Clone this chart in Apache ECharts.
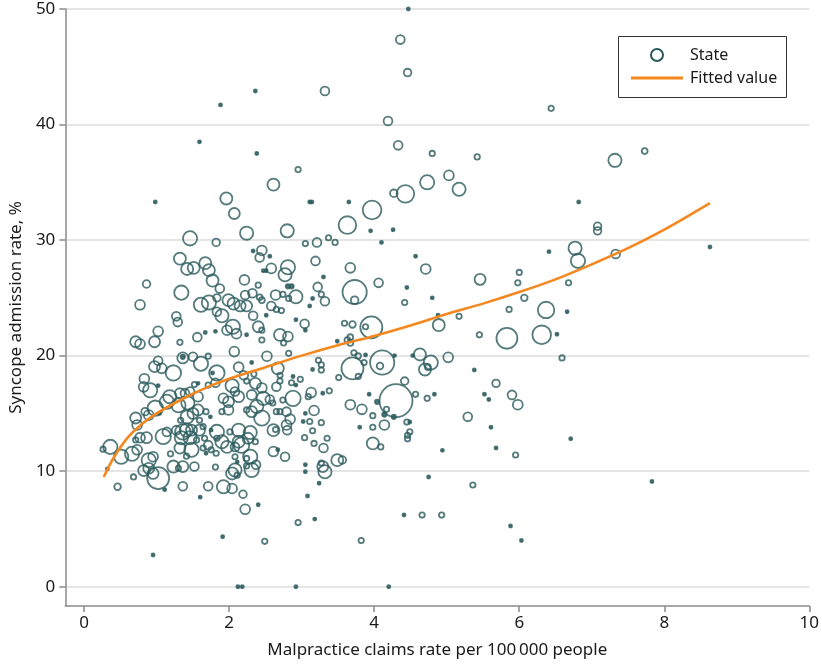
<!DOCTYPE html>
<html><head><meta charset="utf-8">
<script src="https://cdn.jsdelivr.net/npm/echarts@6/dist/echarts.min.js"></script>
<style>html,body{margin:0;padding:0;background:#fff}#c{width:822px;height:664px}</style>
</head><body><div id="c"></div>
<script>
// Tick labels
const xTicks = [0, 2, 4, 6, 8, 10];
const yTicks = [0, 10, 20, 30, 40, 50];
const xTitle = 'Malpractice claims rate per 100\u2009000 people';
const yTitle = 'Syncope admission rate, %';
const seriesNames = ['State', 'Fitted value'];

// States: [malpractice claims rate, syncope admission rate, relative weight]
const states = [
[4.47,50.0,2],[4.36,47.35,16],[4.46,44.5,12],[3.32,42.9,16],[2.36,42.9,2],[1.88,41.7,2],[1.59,38.5,2],
[4.19,40.3,16],[4.33,38.2,16],[4.80,37.5,6],[5.42,37.2,6],[2.38,37.5,2],[2.95,36.1,6],[2.61,34.8,30],
[4.73,35.0,42],[5.17,34.4,36],[4.43,34.0,64],[4.27,34.05,12],[5.03,35.6,20],[6.44,41.4,6],[7.32,36.9,36],
[7.73,37.7,7],[8.63,29.4,2],[7.08,31.2,12],[7.08,30.8,12],[6.82,33.3,2],[7.33,28.8,16],[6.81,28.2,42],
[6.77,29.3,36],[7.83,9.1,2],
[3.65,33.3,2],[3.97,32.6,72],[3.63,31.3,64],[3.95,30.8,2],[4.26,30.9,2],[4.10,29.8,2],[6.41,29.0,2],
[4.57,28.6,2],[3.67,27.6,20],[4.71,27.5,20],[5.46,26.6,25],[6.0,27.2,6],[5.98,26.3,6],[6.68,26.3,6],
[4.06,26.3,16],[3.73,25.5,121],[3.73,24.8,12],[4.45,25.9,2],[4.80,25.0,2],[4.42,24.6,6],[6.07,25.0,9],
[5.86,24.0,6],[6.37,23.95,56],[6.66,23.8,2],[4.88,23.5,2],[5.17,23.4,6],[3.59,22.8,6],[3.70,22.7,9],
[3.96,22.45,100],[3.88,22.5,6],[4.89,22.65,30],[5.45,21.8,6],[5.83,21.5,90],[6.31,21.8,72],[6.52,21.85,2],
[3.67,21.6,7],[3.67,21.1,7],[3.63,21.35,7],[3.72,20.25,6],[3.78,19.97,6],[3.88,20.05,2],[3.70,18.9,100],
[4.11,19.4,121],[4.08,19.1,9],[3.86,19.4,6],[4.28,20.0,2],[4.53,20.0,2],[4.63,20.1,30],[4.78,19.4,42],
[4.70,18.8,30],[4.74,19.0,7],[5.02,19.85,20],[3.78,18.2,6],[6.59,19.8,6],[5.38,18.75,2],[4.42,17.8,12],
[5.68,17.6,12],[4.30,16.1,225],[3.93,16.65,2],[4.57,16.65,6],[4.73,16.3,6],[4.83,16.65,2],[5.52,16.65,2],
[5.58,16.2,2],[5.90,16.6,16],
[3.67,15.75,20],[3.83,15.35,20],[4.04,16.0,4],[3.98,14.8,6],[4.17,15.35,6],[4.14,14.9,4],[4.27,14.7,4],
[5.98,15.75,20],[5.29,14.7,16],[3.80,13.8,2],[3.98,13.8,6],[4.14,14.0,20],[4.45,14.25,6],[4.49,14.25,2],
[4.49,13.4,6],[4.46,13.1,6],[4.46,12.8,6],[3.98,12.4,30],[4.09,12.1,6],[5.61,13.8,2],[4.94,11.8,2],
[5.68,12.0,2],[5.95,11.4,6],[6.71,12.8,2],[3.56,10.97,12],[4.75,9.5,2],[5.36,8.8,6],[4.41,6.2,2],
[4.66,6.2,6],[4.93,6.2,6],[5.88,5.25,2],[3.82,4.0,6],[6.03,4.0,2],[4.20,0,2],
[2.22,6.7,20],[2.40,7.1,2],[2.95,5.55,6],[3.18,5.85,2],[1.91,4.33,2],[2.49,3.93,6],[0.95,2.74,2],
[2.12,0,2],[2.18,0,2],[2.92,0,2],
[0.98,33.3,2],[1.46,30.15,42],[1.32,28.4,30],[1.42,27.5,30],[1.51,27.6,30],[1.67,28.0,30],[1.72,27.4,30],
[1.77,26.5,30],[0.86,26.2,12],[1.34,25.45,42],[0.77,24.4,20],[1.61,24.4,42],[1.72,24.6,42],[1.27,23.4,16],
[1.29,22.9,16],[1.02,22.1,20],[0.71,21.2,25],[0.77,21.0,20],[0.97,21.2,25],[1.32,21.15,6],[1.56,21.6,16],
[1.67,22.0,2],
[1.96,33.6,30],[2.07,32.3,25],[3.11,33.3,2],[3.14,33.3,2],[2.24,30.6,36],[2.80,30.8,36],[1.82,29.8,12],
[3.05,29.7,6],[3.21,29.8,16],[3.37,30.2,6],[3.46,29.8,6],[2.33,29.05,2],[2.45,29.1,20],[2.42,28.5,16],
[2.56,28.6,2],[3.19,28.2,16],[2.58,27.55,20],[2.47,27.35,2],[2.51,27.35,2],[2.81,27.65,42],[2.77,27.0,36],
[3.30,26.8,2],[2.21,26.55,20],[3.22,25.95,16],[3.27,25.3,6],[3.32,24.7,16],[1.87,25.8,16],[2.40,26.1,6],
[2.81,26.0,4],[2.86,26.0,4],[1.83,25.0,12],[1.99,24.8,30],[2.06,24.5,30],[2.22,25.25,16],[2.32,25.4,16],
[2.42,25.05,7],[2.45,24.8,7],[2.64,25.25,20],[2.74,25.3,6],[2.92,25.1,36],[2.82,24.95,6],[3.15,24.95,2],
[3.11,24.3,2],[2.15,24.3,25],[2.24,24.3,25],[2.58,24.3,16],[2.65,24.0,6],[2.72,23.9,6],[2.51,23.5,2],
[2.33,23.45,16],[1.90,23.45,36],[1.83,23.8,16],[2.05,22.5,42],[1.97,22.2,20],[2.10,21.9,20],[2.40,22.5,25],
[2.45,22.2,6],[2.70,21.8,30],[2.81,21.65,20],[2.92,23.1,2],[3.04,22.75,16],[3.05,22.2,2],[2.45,21.35,6],
[2.75,21.1,6],[3.49,21.25,2],[2.24,21.8,2],[1.81,22.1,2],
[1.02,19.55,16],[0.97,19.05,25],[1.07,18.9,20],[1.23,18.5,49],[1.36,19.8,25],[1.36,19.9,4],[1.61,19.3,42],
[1.71,19.95,6],[1.50,19.9,16],[1.77,18.5,2],[0.83,18.0,20],[0.82,17.3,20],[0.91,17.0,42],[1.02,17.4,2],
[1.18,16.45,36],[1.32,16.75,20],[1.39,16.75,16],[1.46,16.9,16],[1.52,17.5,6],[1.57,16.45,20],[1.71,17.45,6],
[1.57,17.6,2],[0.98,15.45,49],[0.84,15.15,12],[0.89,14.85,20],[1.04,15.0,2],[0.71,14.6,25],[0.73,14.0,20],
[1.14,16.0,42],[1.30,15.7,42],[1.43,15.9,36],[1.50,15.0,25],[1.42,14.7,36],[1.33,14.4,6],[1.57,15.3,25],
[1.68,15.15,6],[1.59,14.4,6],[1.74,14.7,2],[1.75,13.55,2],[1.27,13.55,16],[1.36,13.4,49],[1.41,13.55,36],
[1.48,13.55,25],[1.59,13.55,25],[1.34,12.9,36],[1.46,12.9,36],[1.55,12.7,6],[1.66,12.85,6],[1.14,13.4,16],
[1.09,13.0,49],[0.86,12.9,25],[0.77,12.9,20],[0.71,12.7,6],[0.36,12.1,42],[0.26,11.9,6],[0.51,11.25,42],
[0.66,11.5,42],[0.73,11.85,20],[0.89,10.95,42],[0.95,11.25,20],[1.32,12.0,25],[1.48,11.85,42],[1.19,11.5,6],
[1.41,11.3,6],[1.64,12.0,6],[1.71,12.25,16],[1.68,11.55,2],[1.75,11.85,6],[1.23,10.4,30],[1.30,10.25,6],
[1.36,10.4,25],[1.52,10.4,16],[0.89,10.25,25],[0.82,10.05,25],[0.95,9.8,25],[1.02,9.4,100],[0.68,9.5,6],
[0.46,8.65,9],[1.11,8.4,2],[1.36,8.7,16],[1.71,8.7,16],[1.60,7.75,2],[0.32,10.2,2],[1.64,13.85,6],
[2.07,20.35,20],[2.52,19.95,20],[2.82,20.2,6],[1.83,18.5,49],[1.81,17.65,16],[2.13,19.0,20],[2.20,18.3,16],
[2.31,19.4,2],[2.34,18.4,6],[2.36,17.6,25],[2.24,17.8,6],[2.04,17.4,36],[2.08,16.9,16],[2.67,18.9,30],
[2.70,18.3,6],[2.65,17.3,16],[2.70,17.8,6],[2.88,18.2,2],[2.98,17.95,6],[2.86,17.65,6],[2.92,17.45,2],
[2.45,17.2,20],[1.92,16.3,20],[1.99,16.0,25],[2.13,16.45,25],[2.31,16.6,20],[2.47,16.3,36],[2.56,16.2,16],
[2.38,15.6,36],[2.31,15.15,25],[2.24,15.3,6],[2.45,14.6,49],[1.99,15.3,20],[1.90,15.15,6],[2.88,16.3,49],
[2.74,16.15,6],[2.60,15.9,6],[3.13,16.8,20],[3.09,16.45,6],[3.38,16.95,6],[3.29,16.75,2],[3.51,18.1,6],
[3.23,19.6,6],[3.27,19.2,6],[3.27,18.75,6],[3.15,18.8,2],[2.65,15.15,6],[2.70,15.15,6],[2.79,15.15,16],
[2.84,14.5,20],[2.79,14.0,20],[2.80,13.55,16],[2.61,13.55,30],[2.64,13.6,6],[3.02,14.3,2],[3.11,14.3,6],
[3.27,14.2,6],[3.17,15.25,20],[3.05,15.0,2],[3.15,13.5,6],[3.04,12.9,6],[3.17,12.4,6],[3.35,12.85,6],
[3.30,12.0,16],[3.49,10.95,30],[3.29,10.4,25],[3.32,9.95,36],[3.24,8.95,2],[3.27,10.7,6],[3.08,7.85,2],
[3.05,10.55,2],[3.05,9.95,2],[2.61,11.7,20],[2.67,11.85,2],[2.77,11.25,16],[1.83,13.4,42],[1.83,12.85,6],
[1.82,11.55,6],[1.81,10.35,6],[2.01,13.4,6],[2.13,13.55,36],[2.29,13.35,36],[2.26,12.85,25],[2.13,12.55,30],
[2.17,12.25,49],[2.08,12.1,16],[2.36,12.55,6],[1.97,12.1,30],[1.90,12.55,36],[2.08,11.25,6],[2.24,11.1,6],
[2.29,11.25,42],[2.37,10.55,16],[2.31,10.1,42],[2.24,10.45,6],[2.11,10.8,2],[2.08,10.1,36],[2.11,9.65,6],
[2.04,9.8,30],[1.92,8.65,36],[2.04,8.5,20],[2.19,8.0,12]
];

// Fitted curve
const fitX = [0.27,0.4,0.6,0.8,1.0,1.25,1.5,1.75,2.0,2.5,3.0,3.5,4.0,4.5,5.0,5.5,6.0,6.5,7.0,7.5,8.0,8.63];
const fitY = [9.5,11.1,12.9,14.1,15.0,15.9,16.7,17.4,18.0,19.0,20.0,20.9,21.7,22.6,23.6,24.5,25.5,26.6,27.9,29.3,30.9,33.2];

const TEAL = '#2a5a5b';
const ORANGE = '#f5871f';
const FONT = 'Noto Sans';

const chart = echarts.init(document.getElementById('c'), null, {renderer: 'canvas'});
chart.setOption({
  animation: false,
  backgroundColor: '#fff',
  grid: {left: 60, right: 10, top: 9, bottom: 58, containLabel: false},
  xAxis: {
    type: 'value', min: -0.26, max: 10,
    name: xTitle, nameLocation: 'middle', nameGap: 36,
    nameTextStyle: {fontFamily: FONT, fontSize: 17, color: '#1a1a1a'},
    axisLine: {show: true, onZero: false, lineStyle: {color: '#8a8a8a', width: 1.5}},
    axisTick: {show: true, length: 6, customValues: xTicks, lineStyle: {color: '#8a8a8a', width: 1.5}},
    axisLabel: {customValues: xTicks, fontFamily: FONT, fontSize: 17, color: '#1a1a1a', margin: 9},
    splitLine: {show: false}
  },
  yAxis: {
    type: 'value', min: -1.67, max: 50,
    name: yTitle, nameLocation: 'middle', nameGap: 38,
    nameTextStyle: {fontFamily: FONT, fontSize: 17, color: '#1a1a1a'},
    axisLine: {show: true, onZero: false, lineStyle: {color: '#8a8a8a', width: 1.5}},
    axisTick: {show: true, length: 6, customValues: yTicks, lineStyle: {color: '#8a8a8a', width: 1.5}},
    axisLabel: {customValues: yTicks, fontFamily: FONT, fontSize: 17, color: '#1a1a1a', margin: 10},
    splitLine: {show: true, lineStyle: {color: '#dcdcdc', width: 1.5}}
  },
  series: [
    {
      name: seriesNames[0], type: 'scatter',
      data: states,
      symbol: 'circle',
      symbolSize: v => 2.2 * Math.sqrt(v[2]),
      itemStyle: {
        color: p => (p.value[2] <= 4 ? TEAL : 'rgba(0,0,0,0)'),
        borderColor: TEAL, borderWidth: 1.8
      },
      emphasis: {disabled: true},
      z: 2
    },
    {
      name: seriesNames[1], type: 'line',
      data: fitX.map((x, i) => [x, fitY[i]]),
      showSymbol: false, smooth: 0.3,
      lineStyle: {color: ORANGE, width: 2.6},
      emphasis: {disabled: true},
      z: 3
    }
  ],
  graphic: [
    {type: 'rect', shape: {x: 618.5, y: 36.5, width: 168, height: 61},
     style: {fill: '#fff', stroke: '#333', lineWidth: 1}, z: 10},
    {type: 'circle', shape: {cx: 657, cy: 55, r: 6},
     style: {fill: 'none', stroke: TEAL, lineWidth: 2}, z: 11},
    {type: 'text', x: 690, y: 55,
     style: {text: seriesNames[0], font: '16px "Noto Sans"', fill: '#1a1a1a', verticalAlign: 'middle'}, z: 11},
    {type: 'line', shape: {x1: 631, y1: 78, x2: 683, y2: 78},
     style: {stroke: ORANGE, lineWidth: 3}, z: 11},
    {type: 'text', x: 690, y: 78,
     style: {text: seriesNames[1], font: '16px "Noto Sans"', fill: '#1a1a1a', verticalAlign: 'middle'}, z: 11}
  ]
});
</script>
</body></html>
